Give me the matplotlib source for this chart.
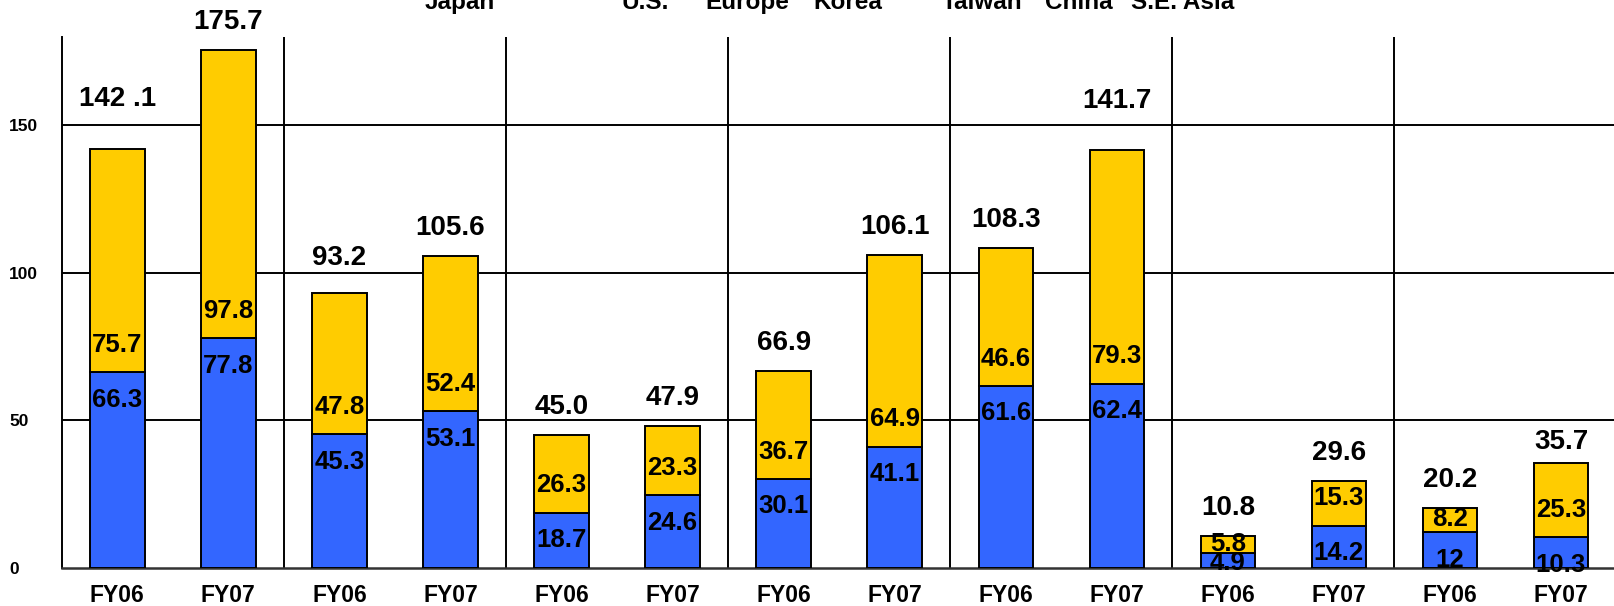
import numpy as np
import matplotlib.pyplot as plt

plt.rcParams['font.family'] = ['Liberation Sans', 'DejaVu Sans']
plt.rcParams['font.weight'] = 'bold'

# data
regions = ['Japan', 'U.S.', 'Europe', 'Korea', 'Taiwan', 'China', 'S.E. Asia']
years = ['FY06', 'FY07'] * 7
blue = [66.3, 77.8, 45.3, 53.1, 18.7, 24.6, 30.1, 41.1, 61.6, 62.4, 4.9, 14.2, 12, 10.3]
yellow = [75.7, 97.8, 47.8, 52.4, 26.3, 23.3, 36.7, 64.9, 46.6, 79.3, 5.8, 15.3, 8.2, 25.3]
totals = [142.1, 175.7, 93.2, 105.6, 45.0, 47.9, 66.9, 106.1, 108.3, 141.7, 10.8, 29.6, 20.2, 35.7]
total_text = ['142 .1', '175.7', '93.2', '105.6', '45.0', '47.9', '66.9', '106.1',
              '108.3', '141.7', '10.8', '29.6', '20.2', '35.7']
blue_text = ['66.3', '77.8', '45.3', '53.1', '18.7', '24.6', '30.1', '41.1',
             '61.6', '62.4', '4.9', '14.2', '12', '10.3']
yellow_text = ['75.7', '97.8', '47.8', '52.4', '26.3', '23.3', '36.7', '64.9',
               '46.6', '79.3', '5.8', '15.3', '8.2', '25.3']

# label offsets (data units) from the segment boundary / bar top
off_blue = [9.3] * 14
off_blue[10] = 3.2
off_yel = [9.3] * 14
off_yel[10] = 3.0
off_yel[12] = 4.6
off_tot = [9.5] * 14
off_tot[0] = 16.7
off_tot[2] = 12.0
off_tot[9] = 16.4
off_tot[13] = 6.9

BLUE = '#3366ff'
YELLOW = '#ffcc00'

fig = plt.figure(figsize=(16.15, 6.06), dpi=100)
ax = fig.add_axes([61.8 / 1615, 38.2 / 606, 1554.7 / 1615, 531.2 / 606])

x = np.arange(len(blue))
b = np.array(blue)
yv = np.array(yellow)
ax.bar(x, b, width=0.49, color=BLUE, edgecolor='black', linewidth=1.4, zorder=3)
ax.bar(x, yv, bottom=b, width=0.49, color=YELLOW, edgecolor='black', linewidth=1.4, zorder=3)

for i in range(len(x)):
    ax.text(x[i], b[i] - off_blue[i], blue_text[i], ha='center', va='center',
            fontsize=18.5, fontweight='bold', zorder=4)
    ax.text(x[i], b[i] + off_yel[i], yellow_text[i], ha='center', va='center',
            fontsize=18.5, fontweight='bold', zorder=4)
    ax.text(x[i], b[i] + yv[i] + off_tot[i], total_text[i], ha='center', va='center',
            fontsize=20, fontweight='bold', clip_on=False, zorder=4)

ax.set_xlim(-0.5, 13.5)
ax.set_ylim(0, 180)
ax.set_yticks([0, 50, 100, 150])
ax.set_xticks(x)
ax.set_xticklabels(years, fontsize=16.5, fontweight='bold')
ax.tick_params(axis='x', length=0, pad=12)
ax.tick_params(axis='y', length=0, pad=38, labelsize=12.5)
for lab in ax.get_yticklabels():
    lab.set_horizontalalignment('left')

for v in [50, 100, 150]:
    ax.axhline(v, color='black', linewidth=1.4, zorder=1)
for g in range(1, 7):
    ax.axvline(2 * g - 0.5, color='black', linewidth=1.4, zorder=1)

for s in ['top', 'right']:
    ax.spines[s].set_visible(False)
ax.spines['left'].set_linewidth(1.4)
ax.spines['bottom'].set_linewidth(1.8)
ax.spines['bottom'].set_color('#333333')

# region names, cut off at the top edge
name_x = [460, 645, 747, 848, 982, 1079, 1183]
for name, px in zip(regions, name_x):
    fig.text(px / 1615, 1 - 9 / 606, name, ha='center', va='baseline',
             fontsize=17.5, fontweight='bold')

fig.savefig('out.png', dpi=100)
